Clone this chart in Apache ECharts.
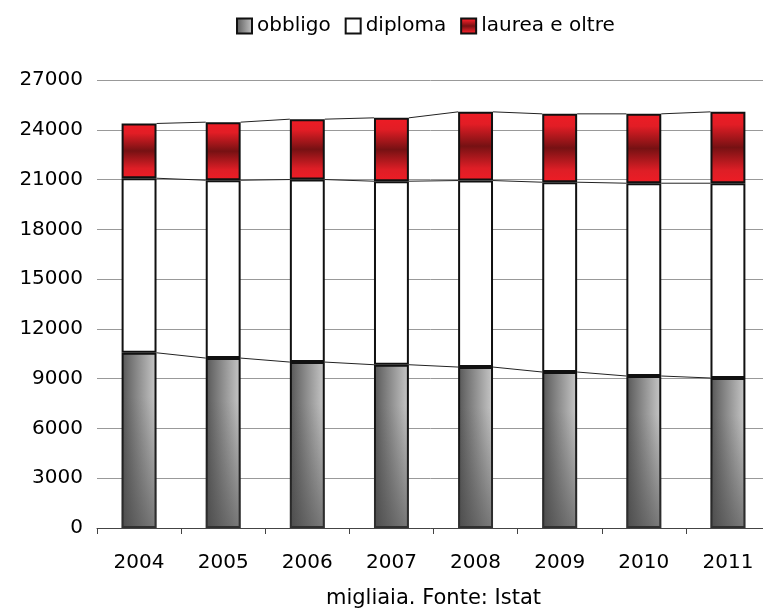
<!DOCTYPE html>
<html>
<head>
<meta charset="utf-8">
<script src="https://cdn.jsdelivr.net/npm/echarts@6/dist/echarts.min.js"></script>
<style>
  html, body { margin: 0; padding: 0; background: #fff; }
  #chart { width: 763px; height: 608px; }
</style>
</head>
<body>
<div id="chart"></div>
<script>
// anni e valori (migliaia)
var anni = ['2004', '2005', '2006', '2007', '2008', '2009', '2010', '2011'];
var obbligo = [10560, 10240, 10000, 9840, 9700, 9400, 9160, 9040];
var diploma = [10520, 10720, 11000, 11060, 11240, 11440, 11620, 11740];
var laurea = [3300, 3500, 3640, 3820, 4140, 4120, 4180, 4300];

var BAR_RATIO = 0.415;

// linee di serie tra le barre (come in Excel)
function serieLinee() {
    var out = [];
    var livelli = [obbligo, diploma, laurea];
    var cum = anni.map(function () { return 0; });
    livelli.forEach(function (arr) {
        cum = cum.map(function (c, i) { return c + arr[i]; });
        for (var i = 0; i < anni.length - 1; i++) {
            out.push([i, cum[i], cum[i + 1]]);
        }
    });
    return out;
}

var myChart = echarts.init(document.getElementById('chart'));

var option = {
    animation: false,
    textStyle: { fontFamily: 'DejaVu Sans', color: '#000' },
    legend: {
        data: ['obbligo', 'diploma', 'laurea e oltre'],
        icon: 'rect',
        left: 231,
        top: 11,
        itemWidth: 15,
        itemHeight: 15,
        itemGap: 14,
        textStyle: { fontSize: 20, color: '#000', fontFamily: 'DejaVu Sans' }
    },
    grid: {
        left: 97,
        top: 80,
        width: 673,
        height: 448,
        outerBoundsMode: 'none'
    },
    xAxis: {
        type: 'category',
        data: anni,
        name: 'migliaia. Fonte: Istat',
        nameLocation: 'middle',
        nameGap: 60,
        nameTextStyle: { fontSize: 21, color: '#000', fontFamily: 'DejaVu Sans' },
        axisLine: { lineStyle: { color: '#444', width: 1 } },
        axisTick: { show: true, length: 6, lineStyle: { color: '#444' } },
        axisLabel: { fontSize: 20, color: '#000', margin: 25 }
    },
    yAxis: {
        type: 'value',
        min: 0,
        max: 27000,
        interval: 3000,
        axisLine: { show: false },
        axisTick: { show: false },
        axisLabel: {
            fontSize: 20, color: '#000', margin: 14,
            formatter: function (v) { return String(v); }
        },
        splitLine: { lineStyle: { color: '#999', width: 1 } }
    },
    series: [
        {
            name: 'obbligo',
            type: 'bar',
            stack: 'tot',
            barWidth: '41.5%',
            barGap: '-100%',
            data: obbligo,
            itemStyle: {
                borderColor: '#111',
                borderWidth: 2,
                color: new echarts.graphic.LinearGradient(0, 0, 1, 0, [
                    { offset: 0, color: '#555555' },
                    { offset: 0.2, color: '#6e6e6e' },
                    { offset: 1, color: '#c8c8c8' }
                ])
            }
        },
        {
            name: 'diploma',
            type: 'bar',
            stack: 'tot',
            barWidth: '41.5%',
            barGap: '-100%',
            data: diploma,
            itemStyle: { color: '#ffffff', borderColor: '#111', borderWidth: 2 }
        },
        {
            name: 'laurea e oltre',
            type: 'bar',
            stack: 'tot',
            barWidth: '41.5%',
            barGap: '-100%',
            data: laurea,
            itemStyle: {
                borderColor: '#111',
                borderWidth: 2,
                color: new echarts.graphic.LinearGradient(0, 0, 0, 1, [
                    { offset: 0, color: '#ee1c25' },
                    { offset: 0.18, color: '#e21d25' },
                    { offset: 0.5, color: '#761113' },
                    { offset: 0.82, color: '#de1e26' },
                    { offset: 1, color: '#ee1c25' }
                ])
            }
        },
        {
            // ombreggiatura verticale sulle barre grigie
            name: 'ombra',
            type: 'bar',
            stack: 'ombra',
            barWidth: '41.5%',
            barGap: '-100%',
            silent: true,
            data: obbligo,
            itemStyle: {
                color: new echarts.graphic.LinearGradient(0, 0, 0, 1, [
                    { offset: 0, color: 'rgba(70,70,70,0)' },
                    { offset: 0.25, color: 'rgba(70,70,70,0)' },
                    { offset: 1, color: 'rgba(70,70,70,0.6)' }
                ])
            }
        },
        {
            type: 'custom',
            silent: true,
            z: 3,
            encode: { x: 0, y: 1 },
            data: serieLinee(),
            renderItem: function (params, api) {
                var i = api.value(0);
                var p0 = api.coord([i, api.value(1)]);
                var p1 = api.coord([i + 1, api.value(2)]);
                var half = api.size([1, 0])[0] * BAR_RATIO / 2;
                return {
                    type: 'line',
                    shape: { x1: p0[0] + half, y1: p0[1], x2: p1[0] - half, y2: p1[1] },
                    style: { stroke: '#222', lineWidth: 1 }
                };
            }
        }
    ]
};

myChart.setOption(option, true);
</script>
</body>
</html>
